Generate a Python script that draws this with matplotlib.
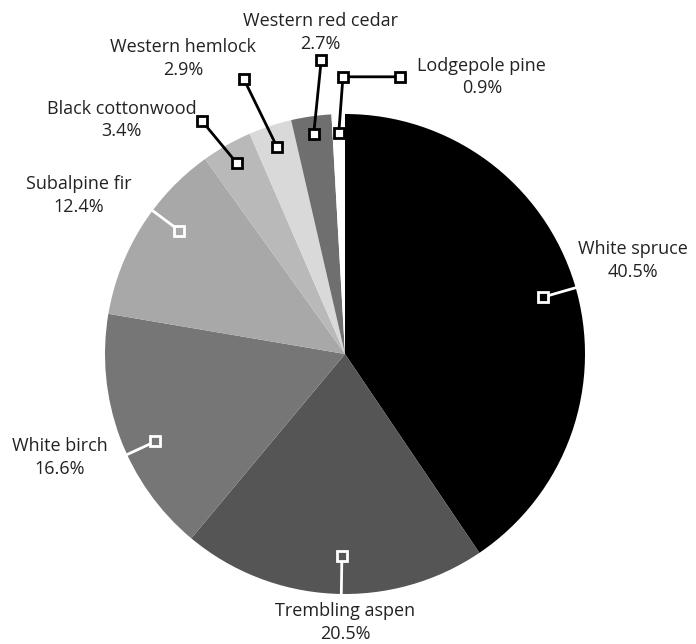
import numpy as np
import matplotlib
matplotlib.use("Agg")
import matplotlib.pyplot as plt

species = ["White spruce", "Trembling aspen", "White birch", "Subalpine fir",
           "Black cottonwood", "Western hemlock", "Western red cedar", "Lodgepole pine"]
shares = [40.5, 20.5, 16.6, 12.4, 3.4, 2.9, 2.7, 0.9]
colors = ["#000000", "#555555", "#767676", "#a8a8a8",
          "#b9b9b9", "#d9d9d9", "#6f6f6f", "#ffffff"]

# label placement (units of pie radius, relative to the centre)
label_xy = [(1.20, 0.39), (0.0, -1.12), (-1.19, -0.43), (-1.11, 0.66),
            (-0.93, 0.975), (-0.675, 1.23), (-0.104, 1.34), (0.57, 1.154)]
# leader lines: inner radius, outer radius, angle shift of inner / outer end (deg), elbow end
leaders = [(0.86, 1.0, -1.0, -1.0, None), (0.84, 1.0, 2.0, 2.0, None),
           (0.87, 1.0, 4.5, 4.5, None), (0.86, 1.0, -4.7, -4.7, None),
           (0.915, 1.14, 0, 2.0, None), (0.91, 1.22, 0, 2.0, None),
           (0.925, 1.23, 0, -3.5, None), (0.92, 1.155, 0, -1.2, 0.229)]

plt.rcParams["font.family"] = ["Open Sans", "DejaVu Sans"]

fig = plt.figure(figsize=(6.96, 6.44), dpi=100)
ax = fig.add_axes([0, 0, 1, 1])

wedges, _ = ax.pie(shares, colors=colors, startangle=90, counterclock=False,
                   radius=1.0, wedgeprops=dict(linewidth=0))

# pie() resets the limits, so set them afterwards
ax.set_xlim(-345 / 240, 351 / 240)
ax.set_ylim(-290 / 240, 354 / 240)
ax.set_aspect("equal")
ax.axis("off")

for w, name, val, (lx, ly), (r0, r1, d0, d1, elbow) in zip(
        wedges, species, shares, label_xy, leaders):
    mid = (w.theta1 + w.theta2) / 2
    a0 = np.deg2rad(mid + d0)
    a1 = np.deg2rad(mid + d1)
    xs = [r0 * np.cos(a0), r1 * np.cos(a1)]
    ys = [r0 * np.sin(a0), r1 * np.sin(a1)]
    if elbow is not None:
        xs.append(elbow)
        ys.append(ys[-1])
    inside = r1 <= 1.0
    lc = "white" if inside else "black"
    fc = w.get_facecolor() if inside else "white"
    ax.plot(xs, ys, color=lc, lw=2, zorder=3)
    # leaders kept inside the pie only get a marker at their inner end
    mx, my = (xs[:1], ys[:1]) if inside else (xs, ys)
    ax.plot(mx, my, ls="none", marker="s", ms=6.5, mew=2, mec=lc,
            mfc=fc, zorder=4)
    ax.text(lx, ly, f"{name}\n{val}%", ha="center", va="center",
            fontsize=13, color="#222222", linespacing=1.35)

fig.savefig("out.png", dpi=100)
